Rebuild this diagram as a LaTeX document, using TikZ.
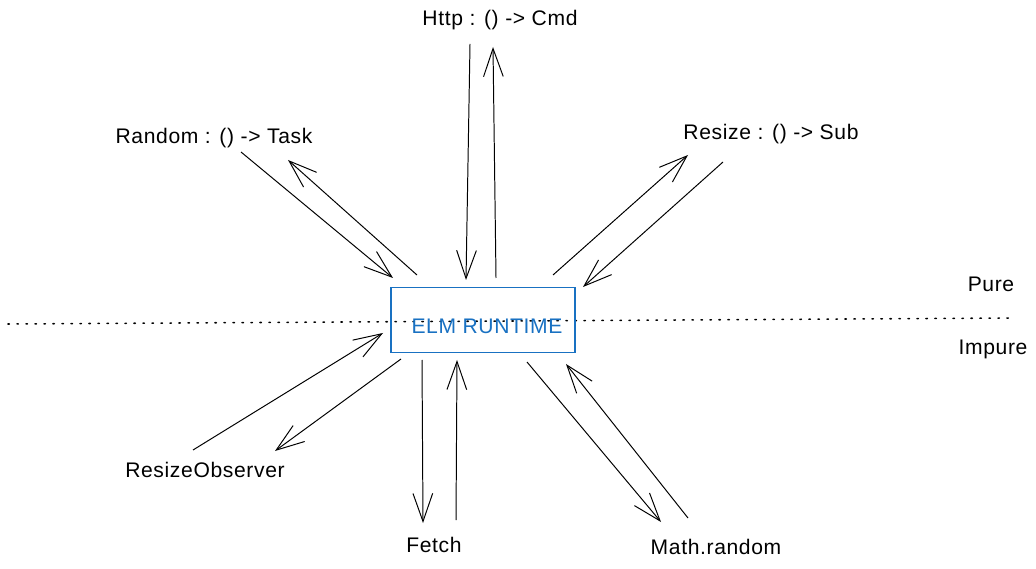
\documentclass[tikz,border=0pt]{standalone}
\usepackage{fontspec}
\setmainfont{Liberation Sans}
\newfontfamily\sketchfont[LetterSpace=3]{Liberation Sans}
\usepackage{tikz}
\usetikzlibrary{arrows.meta}
\definecolor{elmblue}{HTML}{1971C2}

\begin{document}
\begin{tikzpicture}[x=0.025cm,y=-0.025cm,
			lbl/.style={font=\sketchfont\fontsize{15}{17}\selectfont,inner sep=0pt},
			arr/.style={-{Straight Barb[length=20pt,width=14pt,line width=0.7pt]},line width=0.7pt},
			runtime/.style={draw=elmblue,line width=1pt,minimum width=4.6cm,minimum height=1.625cm}]
			\fill[white] (0,0) rectangle (1036,569);
			\useasboundingbox (0,0) rectangle (1036,569);
			
			% pure / impure border
			
			\coordinate (dl) at (8,324);
			\coordinate (dr) at (1015,318);
			\draw[line width=1.1pt,dash pattern=on 1pt off 5.4pt,line cap=round] (dl) -- (dr);
			\node[lbl] (pure) at (991,284) {Pure};
			\node[lbl] (impure) at (993,349) {Impure};
			
			% runtime
			
			\node[runtime] (rt) at (483,320) {};
			\node[lbl,text=elmblue] (rtl) at (487,326) {ELM RUNTIME};
			
			% labels
			
			\node[lbl] (http) at (500,20) {Http : () -> Cmd};
			\node[lbl] (rnd) at (214,138) {Random : () -> Task};
			\node[lbl] (rsz) at (771,134) {Resize : () -> Sub};
			\node[lbl] (obs) at (205,470) {ResizeObserver};
			\node[lbl] (fetch) at (434,545) {Fetch};
			\node[lbl] (math) at (716,547) {Math.random};
			
			% arrows
			
			\foreach \n/\xa/\ya/\xb/\yb in {httpd/470/44/466/280, httpu/496/278/493/47,
				rndd/241/152/393/278, rndu/417/275/288/160,
				rszu/553/275/688/155, rszd/723/162/583/287,
				obsu/193/450/383/333, obsd/401/359/275/451,
				fetchd/422/360/423/523, fetchu/456/520/457/360,
				mathd/527/362/661/522, mathu/688/518/566/364} {
				\coordinate (\n a) at (\xa,\ya);
				\coordinate (\n b) at (\xb,\yb);
				\draw[arr] (\n a) -- (\n b);
			}
		\end{tikzpicture}
\end{document}
